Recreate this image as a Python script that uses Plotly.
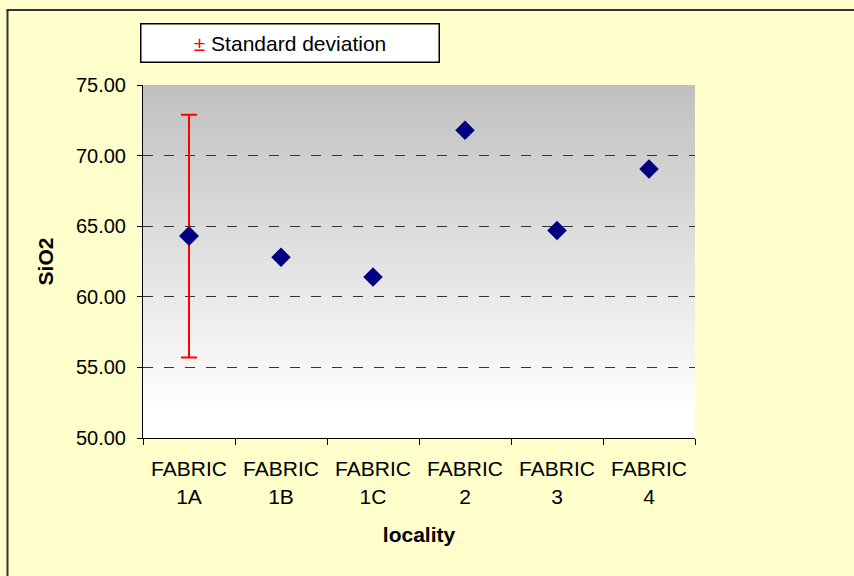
import plotly.graph_objects as go

categories = ["FABRIC<br>1A", "FABRIC<br>1B", "FABRIC<br>1C", "FABRIC<br>2", "FABRIC<br>3", "FABRIC<br>4"]
sio2 = [64.3, 62.8, 61.4, 71.8, 64.7, 69.05]
std_dev = [8.6, None, None, None, None, None]
y_ticks = [50, 55, 60, 65, 70, 75]

W, H = 854, 576
L, R, T, B = 143, 695, 85, 438

def px_x(p):
    return (p - L) / (R - L)

def px_y(p):
    return (B - p) / (B - T)

fig = go.Figure()

fig.add_trace(go.Scatter(
    x=categories, y=sio2, mode="markers",
    marker=dict(symbol="diamond", size=15, color="#000080"),
    showlegend=False, hoverinfo="x+y",
))

ex = [c for c, s in zip(categories, std_dev) if s is not None]
ey = [v for v, s in zip(sio2, std_dev) if s is not None]
es = [s for s in std_dev if s is not None]
fig.add_trace(go.Scatter(
    x=ex, y=ey, mode="markers",
    marker=dict(symbol="diamond", size=15, color="#000080"),
    error_y=dict(type="data", array=es, visible=True, color="#FF0000", thickness=2, width=8),
    showlegend=False,
))

shapes = []
n = 80
top = (192, 192, 192)
bot = (255, 255, 255)
white_until = 0.08
for i in range(n):
    y0 = i / n
    y1 = min(1.0, (i + 1.6) / n)
    t = max(0.0, ((i + 0.5) / n - white_until) / (1 - white_until))
    c = tuple(round(bot[k] + (top[k] - bot[k]) * t) for k in range(3))
    shapes.append(dict(type="rect", xref="x domain", yref="y domain",
                       x0=0, x1=1, y0=y0, y1=y1,
                       fillcolor="rgb(%d,%d,%d)" % c, line=dict(width=0), layer="below"))
shapes.append(dict(type="line", xref="paper", yref="paper",
                   x0=px_x(7.5), x1=px_x(7.5), y0=px_y(10), y1=px_y(620),
                   line=dict(color="#333333", width=2)))
shapes.append(dict(type="line", xref="paper", yref="paper",
                   x0=px_x(6.5), x1=px_x(900), y0=px_y(10), y1=px_y(10),
                   line=dict(color="#333333", width=2)))

fig.update_layout(
    width=W, height=H,
    margin=dict(l=L, r=W - R, t=T, b=H - B),
    paper_bgcolor="#FFFFCC",
    plot_bgcolor="rgba(0,0,0,0)",
    font=dict(family="Liberation Sans, Arial, sans-serif", size=20, color="black"),
    shapes=shapes,
    xaxis=dict(
        type="category", range=[-0.5, 5.5], tickson="boundaries",
        ticks="outside", ticklen=6, tickcolor="black",
        showline=True, linecolor="black", linewidth=1,
        showgrid=False, zeroline=False, ticklabelstandoff=12,
        tickfont=dict(size=21),
        title=dict(text="<b>locality</b>", standoff=20, font=dict(size=21)),
    ),
    yaxis=dict(
        range=[50, 75], tickvals=y_ticks, tickformat=".2f",
        ticks="outside", ticklen=5, tickcolor="black",
        showline=True, linecolor="black", linewidth=1,
        showgrid=True, gridcolor="#333333", gridwidth=1, griddash="10px,11px",
        zeroline=False, ticklabelstandoff=7,
        title=dict(text="<b>SiO2</b>", standoff=16, font=dict(size=21)),
    ),
    annotations=[dict(
        xref="paper", yref="paper", x=px_x(140), y=px_y(23),
        xanchor="left", yanchor="top",
        text='<span style="color:#FF0000">±</span> Standard deviation',
        showarrow=False, bgcolor="white", bordercolor="black", borderwidth=1.5,
        width=295, height=35, align="center", font=dict(size=21),
    )],
)

fig.write_html(
    "out.html",
    config={"displayModeBar": False},
    post_script="document.body.style.margin='0';document.body.style.overflow='hidden';",
)
